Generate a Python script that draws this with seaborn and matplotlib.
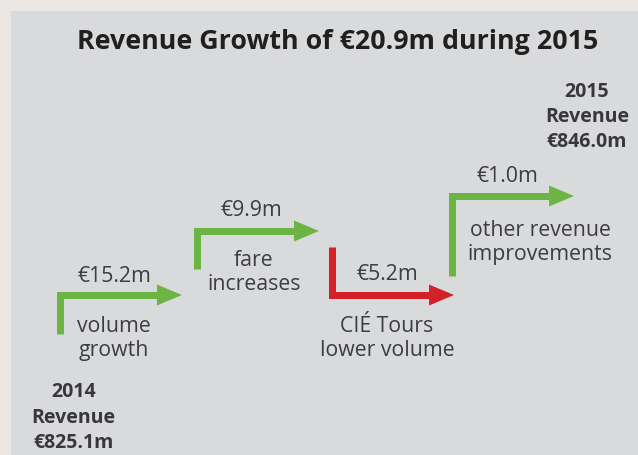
import matplotlib
matplotlib.use("Agg")
import matplotlib.pyplot as plt
import seaborn as sns
import pandas as pd
from matplotlib.patches import Rectangle, Polygon

# data
title = "Revenue Growth of €20.9m during 2015"
start_year, end_year = 2014, 2015
start_revenue = 825.1
end_revenue = 846.0
steps = ["volume\ngrowth", "fare\nincreases", "CIÉ Tours\nlower volume", "other revenue\nimprovements"]
changes = [15.2, 9.9, -5.2, 1.0]

# layout (pixel space, y down)
arrow_x = [60, 197, 332, 452]
arrow_from = [335, 270, 248, 277]
arrow_level = [296, 232, 296, 197]
arrow_tip = [182, 319, 454, 574]
value_pos = [(114, 282), (251, 216), (387, 280), (507, 182)]
step_pos = [(114, 332), (254, 266), (387, 332), (540, 236)]
start_pos = (73.5, 397)
end_pos = (587, 97)

GREEN = "#6cb544"
RED = "#d42128"
TEXT = "#3d3d3f"
HEAD_LEN, HEAD_HALF = 25, 10.5

sns.set_theme(style="white")
plt.rcParams["font.family"] = ["Open Sans", "DejaVu Sans"]

fig = plt.figure(figsize=(6.38, 4.56), dpi=100)
fig.patch.set_facecolor("#eae6e4")
ax = fig.add_axes([0, 0, 1, 1])
ax.set_xlim(0, 638)
ax.set_ylim(456, 0)
ax.axis("off")

ax.add_patch(Rectangle((11, 12), 640, 460, facecolor="#d9dadc", edgecolor="none", zorder=0))

ax.text(338, 49, title, ha="center", va="baseline", fontsize=19.3,
        fontweight="bold", color="#231f20")


def lines_at(x, y, text, size, weight, gap, color=TEXT):
    for i, line in enumerate(text.split("\n")):
        ax.text(x, y + i * gap, line, ha="center", va="baseline", fontsize=size,
                fontweight=weight, color=color)


for i, (step, ch) in enumerate(zip(steps, changes)):
    color = GREEN if ch >= 0 else RED
    x, y0, lvl, tip = arrow_x[i], arrow_from[i], arrow_level[i], arrow_tip[i]
    path = pd.DataFrame({"x": [x, x, tip - HEAD_LEN + 2], "y": [y0, lvl, lvl]})
    sns.lineplot(data=path, x="x", y="y", ax=ax, color=color, lw=5.04,
                 estimator=None, sort=False, solid_joinstyle="miter",
                 solid_capstyle="butt")
    ax.add_patch(Polygon([(tip, lvl), (tip - HEAD_LEN, lvl - HEAD_HALF),
                          (tip - HEAD_LEN, lvl + HEAD_HALF)], closed=True,
                         facecolor=color, edgecolor="none"))
    vx, vy = value_pos[i]
    ax.text(vx, vy, f"€{abs(ch):.1f}m", ha="center", va="baseline",
            fontsize=15.3, color=TEXT)
    sx, sy = step_pos[i]
    lines_at(sx, sy, step, 15.3, "normal", 24)

lines_at(start_pos[0], start_pos[1], f"{start_year}\nRevenue\n€{start_revenue:.1f}m",
         14, "bold", 25.7, "#38383a")
lines_at(end_pos[0], end_pos[1], f"{end_year}\nRevenue\n€{end_revenue:.1f}m",
         14, "bold", 25, "#38383a")

ax.set_xlim(0, 638)
ax.set_ylim(456, 0)
ax.axis("off")
fig.savefig("out.png", dpi=100)
